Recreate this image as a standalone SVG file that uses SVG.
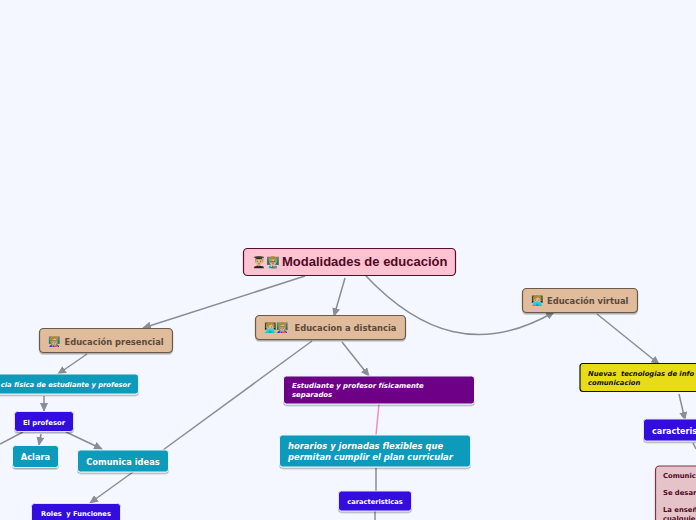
<svg xmlns="http://www.w3.org/2000/svg" width="696" height="520" viewBox="0 0 696 520">
<defs>
<marker id="a" markerWidth="10" markerHeight="8" refX="8" refY="4" orient="auto" markerUnits="userSpaceOnUse"><path d="M0 0L9 4L0 8Z" fill="#8a8d94"/></marker>
<filter id="s" x="-10%" y="-20%" width="120%" height="150%"><feDropShadow dx="0" dy="1.5" stdDeviation="0.6" flood-color="#000" flood-opacity="0.3"/></filter>
</defs>
<style>
text{font-family:"DejaVu Sans",Verdana,sans-serif;font-weight:700}
.c{fill:none;stroke:#8a8d94;stroke-width:1.5}
.m{text-anchor:middle}
.r{fill:#ffc2d1;stroke:#5e0b2b;stroke-width:1.2}
.t{fill:#e0bb9c;stroke:#6b5a48;stroke-width:1.2;filter:url(#s)}
.b{fill:#109abb;stroke:#e8f6fa;stroke-width:1;filter:url(#s)}
.i{fill:#3107dd;stroke:#e4e0fb;stroke-width:1;filter:url(#s)}
.w{fill:#fff}
.d{fill:#5b4a3a;font-size:8.350px}
</style>
<rect width="696" height="520" fill="#f4f7ff"/>
<g id="connectors">
<path class="c" d="M305 276L143 328" marker-end="url(#a)"/>
<path class="c" d="M345 278L334 316" marker-end="url(#a)"/>
<path class="c" d="M366 276C420 333 480 355 554 312" marker-end="url(#a)"/>
<path class="c" d="M87 354L58 374" marker-end="url(#a)"/>
<path class="c" d="M44 396V411" marker-end="url(#a)"/>
<path class="c" d="M23 432L0 444"/>
<path class="c" d="M41 434L39 445" marker-end="url(#a)"/>
<path class="c" d="M66 432L102 449" marker-end="url(#a)"/>
<path class="c" d="M312 341L163 450"/>
<path class="c" d="M133 472L90 503" marker-end="url(#a)"/>
<path class="c" d="M342 342L369 376" marker-end="url(#a)"/>
<path d="M379 404L376 435" fill="none" stroke="#f48cc0" stroke-width="1.5"/>
<path class="c" d="M376 468V491"/>
<path class="c" d="M375 511V520"/>
<path class="c" d="M597 314L659 364" marker-end="url(#a)"/>
<path class="c" d="M679 394L685 420" marker-end="url(#a)"/>
<path class="c" d="M693 443L696 449"/>
</g>
<g id="n-root"><rect class="r" x="243.500" y="248.500" width="212" height="27" rx="4"/>
<text x="252" y="266" font-size="11">👨🏼‍🎓👨🏼‍🏫</text><text x="282" y="266" font-size="13" fill="#4d0a24" style="font-family:'Liberation Sans',Arial,sans-serif">Modalidades de educación</text></g>
<g id="n-presencial"><rect class="t" x="39.500" y="328.500" width="133" height="24" rx="4"/>
<text x="48" y="345" font-size="10">👩🏼‍🏫</text><text x="64.500" y="344.500" class="d">Educación presencial</text></g>
<g id="n-distancia"><rect class="t" x="255.500" y="315.500" width="150" height="24" rx="4"/>
<text x="264" y="331" font-size="10">🧑🏼‍💻👩🏼‍🏫</text><text x="294.500" y="330.500" class="d">Educacion a distancia</text></g>
<g id="n-virtual"><rect class="t" x="522.500" y="288.500" width="115" height="24" rx="4"/>
<text x="531" y="304" font-size="10">🧑🏼‍💻</text><text x="547" y="303.500" class="d">Educación virtual</text></g>
<g id="n-fisica"><rect class="b" x="-30" y="374" width="168.500" height="20" rx="3"/>
<text x="130.500" y="386.500" font-size="6.750" font-style="italic" text-anchor="end" class="w">cia física de estudiante y profesor</text></g>
<g id="n-profesor"><rect class="i" x="14.500" y="411.500" width="59" height="20" rx="3"/>
<text x="44" y="424.500" font-size="6.850" class="w m">El profesor</text></g>
<g id="n-aclara"><rect class="b" x="12.500" y="445.500" width="46" height="22" rx="3"/>
<text x="35.500" y="460" font-size="8.300" class="w m">Aclara</text></g>
<g id="n-comunica"><rect class="b" x="77.500" y="450" width="91" height="22" rx="3"/>
<text x="123" y="464.500" font-size="8.300" class="w m">Comunica ideas</text></g>
<g id="n-roles"><rect class="i" x="31.500" y="503.500" width="89" height="24" rx="3"/>
<text x="76" y="516" font-size="6.700" class="w m" xml:space="preserve">Roles  y Funciones</text></g>
<g id="n-separados"><rect class="b" style="fill:#6e0587" x="283.500" y="376" width="191" height="28" rx="3"/>
<text font-size="6.900" font-style="italic" class="w"><tspan x="292" y="388">Estudiante y profesor físicamente</tspan><tspan x="292" y="396.500">separados</tspan></text></g>
<g id="n-horarios"><rect class="b" x="279.500" y="435" width="191" height="32" rx="3"/>
<text font-size="8.400" font-style="italic" class="w"><tspan x="288" y="449">horarios y jornadas flexibles que</tspan><tspan x="288" y="459.500">permitan cumplir el plan curricular</tspan></text></g>
<g id="n-caracteristicas"><rect class="i" x="338.500" y="491" width="73" height="20" rx="3"/>
<text x="375" y="504" font-size="6.700" class="w m">caracteristicas</text></g>
<g id="n-nuevas"><rect x="580" y="363.500" width="130" height="28" rx="3" fill="#e8dc16" stroke="#111" stroke-width="1.200"/>
<text font-size="6.800" font-style="italic" fill="#111"><tspan x="588" y="376" xml:space="preserve">Nuevas  tecnologias de info</tspan><tspan x="588" y="384.500">comunicacion</tspan></text></g>
<g id="n-caracteris"><rect class="i" x="643.500" y="419" width="71" height="22" rx="3"/>
<text x="652" y="433.500" font-size="8" class="w">caracteris</text></g>
<g id="n-lista"><rect x="655.500" y="466" width="60" height="70" rx="4" fill="#e6c3c8" stroke="#7a3444" stroke-width="1.200"/>
<text font-size="6.800" fill="#4d0a24"><tspan x="663" y="478">Comunic</tspan><tspan x="663" y="495">Se desar</tspan><tspan x="663" y="512">La enseñ</tspan><tspan x="663" y="520.500">cualquie</tspan></text></g>
</svg>
